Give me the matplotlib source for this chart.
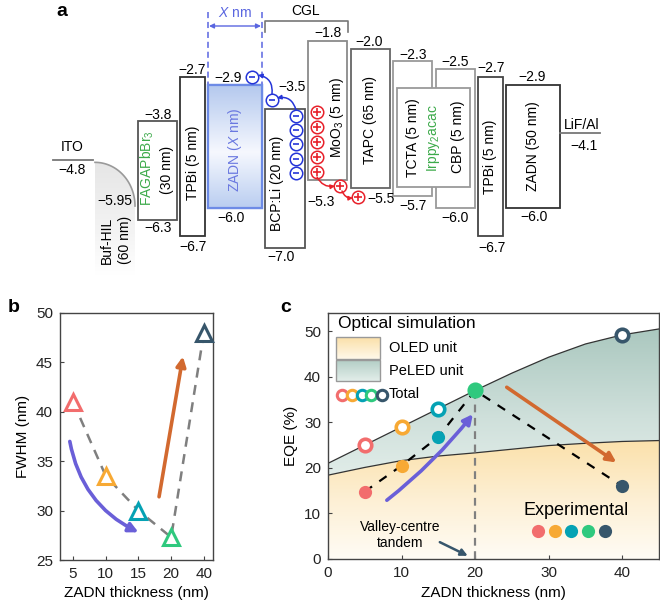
import numpy as np
import matplotlib
matplotlib.use("Agg")
import matplotlib.pyplot as plt
from matplotlib.patches import Rectangle, Polygon, FancyArrowPatch
from matplotlib.colors import to_rgb

plt.rcParams['font.family'] = ['Liberation Sans', 'DejaVu Sans']
plt.rcParams['mathtext.fontset'] = 'custom'
plt.rcParams['mathtext.rm'] = 'Liberation Sans'
plt.rcParams['mathtext.it'] = 'Liberation Sans:italic'

# ---------------- data ----------------
# panel a: energy levels (eV)
layers = ['FAGAPbBr3', 'TPBi', 'ZADN_X', 'BCP:Li', 'MoO3', 'TAPC', 'TCTA', 'CBP', 'TPBi_2', 'ZADN_50']
lumo = [-3.8, -2.7, -2.9, -3.5, -1.8, -2.0, -2.3, -2.5, -2.7, -2.9]
homo = [-6.3, -6.7, -6.0, -7.0, -5.3, -5.5, -5.7, -6.0, -6.7, -6.0]
ito_level = -4.8
lifal_level = -4.1
bufhil_top = -4.85
bufhil_homo = -5.95
emitter_top = -2.98
emitter_bottom = -5.48

# panel b
b_thick_labels = ['5', '10', '15', '20', '40']
b_fwhm = [41.0, 33.5, 30.0, 27.3, 48.0]

# panel c
c_thick = [5, 10, 15, 20, 40]
c_exp = [14.8, 20.5, 26.8, 37.0, 16.0]
c_total_pts = [25.0, 29.0, 33.0, 37.0, 49.2]
sim_x = [0, 5, 10, 15, 20, 25, 30, 35, 40, 45]
sim_oled = [18.4, 20.1, 21.6, 22.6, 23.3, 24.1, 24.9, 25.4, 25.8, 26.0]
sim_total = [21.0, 25.0, 29.0, 33.0, 37.0, 40.8, 44.3, 47.2, 49.2, 50.5]

series_colors = ['#f26d6d', '#f7a934', '#05a2b4', '#2fc97e', '#37566b']

# ---------------- figure ----------------
W, H = 660, 611
fig = plt.figure(figsize=(W / 100, H / 100), dpi=100)


def vgrad(ax, extent, stops, clip, zorder=1):
    n = 256
    t = np.linspace(0, 1, n)
    pos = np.array([s[0] for s in stops])
    cols = np.array([to_rgb(s[1]) for s in stops])
    arr = np.stack([np.interp(t, pos, cols[:, k]) for k in range(3)], axis=-1)
    arr = arr[:, None, :]
    im = ax.imshow(arr, extent=extent, aspect='auto', origin='upper',
                   zorder=zorder, interpolation='bilinear')
    im.set_clip_path(clip)
    return im


# ================= panel a =================
axa = fig.add_axes([0, 1 - 280 / H, 1, 280 / H])
axa.set_axis_off()


def E(ypix):
    return -2.7 - (ypix - 77) / 39.7


axa.set_xlim(0, W)
axa.set_ylim(E(280), E(0))


def fmt(v):
    s = f"{abs(v):.2f}" if abs(round(v, 1) - v) > 1e-9 else f"{abs(v):.1f}"
    return "\u2212" + s


FS = 10
box_x = [(138, 177), (180, 205), (208, 262), (265, 305), (308, 347),
         (351, 390), (393, 432), (436, 475), (478, 503), (506, 560)]
edge_cols = ['#555555', '#333333', '#6d8be6', '#555555', '#8a8a8a',
             '#666666', '#9a9a9a', '#9a9a9a', '#444444', '#333333']

for i, name in enumerate(layers):
    x0, x1 = box_x[i]
    r = Rectangle((x0, homo[i]), x1 - x0, lumo[i] - homo[i], fc='white',
                  ec=edge_cols[i], lw=1.3 if name != 'ZADN_X' else 1.6, zorder=2)
    axa.add_patch(r)
    if name == 'ZADN_X':
        vgrad(axa, [x0, x1, homo[i], lumo[i]],
              [(0, '#b3c8ee'), (0.55, '#f6f8fe'), (1, '#b9cdf0')], r, zorder=2.1)
        r2 = Rectangle((x0, homo[i]), x1 - x0, lumo[i] - homo[i], fc='none',
                       ec=edge_cols[i], lw=1.6, zorder=2.2)
        axa.add_patch(r2)

# emitter (host-guest) box
axa.add_patch(Rectangle((397, emitter_bottom), 470 - 397, emitter_top - emitter_bottom,
                        fc='white', ec='#9a9a9a', lw=1.3, zorder=3))

# ITO and LiF/Al lines
axa.plot([53, 93], [ito_level, ito_level], color='#777777', lw=1.3)
axa.text(72, E(147), 'ITO', ha='center', va='center', fontsize=FS)
axa.text(72, E(170), fmt(ito_level), ha='center', va='center', fontsize=FS)
axa.plot([560, 600], [lifal_level, lifal_level], color='#777777', lw=1.3)
axa.text(582, E(125), 'LiF/Al', ha='center', va='center', fontsize=FS)
axa.text(584, E(146), fmt(lifal_level), ha='center', va='center', fontsize=FS)

# Buf-HIL shape
th = np.linspace(np.pi / 2, 0, 60)
cx, cy = 95, bufhil_homo
rx, ry = 40, bufhil_top - bufhil_homo
curve_x = cx + rx * np.cos(th)
curve_y = cy + ry * np.sin(th)
ybot = E(275)
poly_pts = np.vstack([np.column_stack([curve_x, curve_y]),
                      [[135, ybot], [95, ybot]]])
hil = Polygon(poly_pts, closed=True, fc='none', ec='none', zorder=1)
axa.add_patch(hil)
vgrad(axa, [95, 135, ybot, bufhil_top], [(0, '#e6e6e6'), (0.6, '#f3f3f3'), (1, '#ffffff')],
      hil, zorder=1)
axa.plot(curve_x, curve_y, color='#9a9a9a', lw=1.2, zorder=2)
axa.text(115, E(201), fmt(bufhil_homo), ha='center', va='center', fontsize=FS, zorder=4)
axa.text(107, E(240), 'Buf-HIL', rotation=90, ha='center', va='center', fontsize=FS)
axa.text(125, E(240), '(60 nm)', rotation=90, ha='center', va='center', fontsize=FS)

# level labels (x pixel, y pixel)
lumo_lab_pos = [(158, 115), (192, 70), (228, 78), (292, 87), (328, 33),
                (369, 42), (413, 55), (455, 62), (491, 68), (532, 77)]
homo_lab_pos = [(158, 228), (193, 247), (231, 218), (281, 257), (321, 202),
                (381, 199), (413, 206), (455, 218), (492, 248), (534, 217)]
for i in range(len(layers)):
    axa.text(lumo_lab_pos[i][0], E(lumo_lab_pos[i][1]), fmt(lumo[i]),
             ha='center', va='center', fontsize=FS, zorder=5)
    axa.text(homo_lab_pos[i][0], E(homo_lab_pos[i][1]), fmt(homo[i]),
             ha='center', va='center', fontsize=FS, zorder=5)

# inner labels
green = '#3caa4a'
blue_t = '#6a78e0'
axa.text(147, E(168), 'FAGAPbBr$_3$', rotation=90, ha='center', va='center', fontsize=FS, color=green, zorder=5)
axa.text(167, E(170), '(30 nm)', rotation=90, ha='center', va='center', fontsize=FS, zorder=5)
axa.text(193, E(163), 'TPBi (5 nm)', rotation=90, ha='center', va='center', fontsize=FS, zorder=5)
axa.text(235, E(150), 'ZADN ($\\mathit{X}$ nm)', rotation=90, ha='center', va='center', fontsize=FS, color=blue_t, zorder=5)
axa.text(277, E(183), 'BCP:Li (20 nm)', rotation=90, ha='center', va='center', fontsize=FS, zorder=5)
axa.text(337, E(117), 'MoO$_3$ (5 nm)', rotation=90, ha='center', va='center', fontsize=FS, zorder=5)
axa.text(370, E(120), 'TAPC (65 nm)', rotation=90, ha='center', va='center', fontsize=FS, zorder=5)
axa.text(413, E(138), 'TCTA (5 nm)', rotation=90, ha='center', va='center', fontsize=FS, zorder=5)
axa.text(433, E(138), 'Irppy$_2$acac', rotation=90, ha='center', va='center', fontsize=FS, color=green, zorder=5)
axa.text(458, E(137), 'CBP (5 nm)', rotation=90, ha='center', va='center', fontsize=FS, zorder=5)
axa.text(490, E(157), 'TPBi (5 nm)', rotation=90, ha='center', va='center', fontsize=FS, zorder=5)
axa.text(533, E(146), 'ZADN (50 nm)', rotation=90, ha='center', va='center', fontsize=FS, zorder=5)

# X nm dimension
xblue = '#5a66e0'
for xv in (208, 262):
    axa.plot([xv, xv], [E(12), E(84)], color=xblue, lw=1.1, ls=(0, (4, 2.5)), zorder=4)
axa.annotate('', xy=(209, E(26)), xytext=(261, E(26)),
             arrowprops=dict(arrowstyle='<|-|>', color=xblue, lw=1.0, mutation_scale=7,
                             shrinkA=0, shrinkB=0))
axa.text(235, E(13), '$\\mathit{X}$ nm', ha='center', va='center', fontsize=FS, color=xblue)

# CGL bracket
axa.plot([265, 265, 348, 348], [E(32), E(21), E(21), E(32)], color='#777777', lw=1.2)
axa.text(306, E(11), 'CGL', ha='center', va='center', fontsize=FS)

# charges
cblue = '#2535d8'
cred = '#e8202a'
minus_pts = [(296, 116), (296, 130), (296, 144), (296, 159), (296, 173), (272, 100), (252, 77)]
plus_pts = [(317, 112), (317, 127), (317, 142), (317, 157), (317, 172), (340, 186), (358, 197)]
for (px, py) in minus_pts:
    axa.plot(px, E(py), 'o', ms=9, mfc='white', mec=cblue, mew=1.1, zorder=6)
    axa.plot(px, E(py), marker='_', ms=5, mew=1.2, color=cblue, zorder=7)
for (px, py) in plus_pts:
    axa.plot(px, E(py), 'o', ms=9, mfc='white', mec=cred, mew=1.1, zorder=6)
    axa.plot(px, E(py), marker='+', ms=5.5, mew=1.2, color=cred, zorder=7)

axa.annotate('', xy=(277, E(98)), xytext=(296, E(110)),
             arrowprops=dict(arrowstyle='-|>', color=cblue, lw=1.1, mutation_scale=6,
                             connectionstyle='arc3,rad=0.45', shrinkA=0, shrinkB=0), zorder=7)
axa.annotate('', xy=(258, E(75)), xytext=(272, E(94)),
             arrowprops=dict(arrowstyle='-|>', color=cblue, lw=1.1, mutation_scale=6,
                             connectionstyle='arc3,rad=0.45', shrinkA=0, shrinkB=0), zorder=7)
axa.annotate('', xy=(335, E(186)), xytext=(317, E(177)),
             arrowprops=dict(arrowstyle='-|>', color=cred, lw=1.1, mutation_scale=6,
                             connectionstyle='arc3,rad=0.35', shrinkA=0, shrinkB=0), zorder=7)
axa.annotate('', xy=(353, E(198)), xytext=(342, E(191)),
             arrowprops=dict(arrowstyle='-|>', color=cred, lw=1.1, mutation_scale=6,
                             connectionstyle='arc3,rad=0.35', shrinkA=0, shrinkB=0), zorder=7)

fig.text(62 / W, 1 - 11 / H, 'a', fontsize=14, fontweight='bold', ha='center', va='center')

# ================= panel b =================
axb = fig.add_axes([60 / W, 1 - 560 / H, 153 / W, 247 / H])
xb = np.arange(len(b_thick_labels))
axb.plot(xb, b_fwhm, ls=(0, (4, 3)), color='#7f7f7f', lw=1.8, zorder=2)
for i in range(len(xb)):
    axb.plot(xb[i], b_fwhm[i], marker='^', ms=11, mfc='white', mec=series_colors[i],
             mew=2.2, zorder=3, clip_on=False)
axb.set_xlim(-0.4, 4.28)
axb.set_ylim(25, 50)
axb.set_xticks(xb)
axb.set_xticklabels(b_thick_labels)
axb.set_yticks([25, 30, 35, 40, 45, 50])
axb.set_xlabel('ZADN thickness (nm)', fontsize=11, labelpad=4)
axb.set_ylabel('FWHM (nm)', fontsize=11, labelpad=4)
axb.annotate('', xy=(2.0, 27.8), xytext=(-0.1, 37.0),
             arrowprops=dict(arrowstyle='-|>', color='#6a5fd8', lw=2.6, mutation_scale=14,
                             connectionstyle='arc3,rad=0.25', shrinkA=0, shrinkB=0))
axb.annotate('', xy=(3.36, 45.6), xytext=(2.63, 31.4),
             arrowprops=dict(arrowstyle='-|>', color='#d2692f', lw=2.6, mutation_scale=14,
                             shrinkA=0, shrinkB=0))
fig.text(14 / W, 1 - 307 / H, 'b', fontsize=14, fontweight='bold', ha='center', va='center')

# ================= panel c =================
axc = fig.add_axes([328 / W, 1 - 559 / H, 331 / W, 246 / H])
axc.set_xlim(0, 45)
axc.set_ylim(0, 54)
fo = axc.fill_between(sim_x, 0, sim_oled, color='none', lw=0)
fp = axc.fill_between(sim_x, sim_oled, sim_total, color='none', lw=0)
p_o = fo.get_paths()[0]
p_p = fp.get_paths()[0]
im1 = vgrad(axc, [0, 45, 0, 27], [(0, '#fbe0a8'), (0.5, '#fdefd3'), (1, '#fffcf5')], None, zorder=0.5)
im1.set_clip_path(p_o, axc.transData)
im2 = vgrad(axc, [0, 45, 17, 52], [(0, '#a8c6bd'), (0.6, '#cfe0db'), (1, '#e3eeea')], None, zorder=0.5)
im2.set_clip_path(p_p, axc.transData)
axc.plot(sim_x, sim_oled, color='#333333', lw=0.9, zorder=1)
axc.plot(sim_x, sim_total, color='#333333', lw=0.9, zorder=1)
axc.set_xlim(0, 45)
axc.set_ylim(0, 54)

# vertical marker at 20
axc.plot([20, 20], [0, 37], color='#808080', lw=1.6, ls=(0, (3.5, 2.5)), zorder=2)
# experimental dashed line
axc.plot(c_thick, c_exp, color='black', lw=1.6, ls=(0, (4, 4)), zorder=2)

for i in range(len(c_thick)):
    axc.plot(c_thick[i], c_total_pts[i], 'o', ms=9, mfc='white', mec=series_colors[i], mew=2.6, zorder=3)
for i in range(len(c_thick)):
    axc.plot(c_thick[i], c_exp[i], 'o', ms=9.5, color=series_colors[i], mec='none', zorder=4)

axc.annotate('', xy=(19.7, 31.8), xytext=(8.0, 12.9),
             arrowprops=dict(arrowstyle='-|>', color='#6a5fd8', lw=2.6, mutation_scale=14,
                             connectionstyle='arc3,rad=0.06', shrinkA=0, shrinkB=0), zorder=5)
axc.annotate('', xy=(39.2, 21.2), xytext=(24.3, 37.7),
             arrowprops=dict(arrowstyle='-|>', color='#d2692f', lw=2.6, mutation_scale=14,
                             shrinkA=0, shrinkB=0), zorder=5)
axc.annotate('', xy=(19.0, 0.7), xytext=(15.2, 3.7),
             arrowprops=dict(arrowstyle='-|>', color='#37566b', lw=1.8, mutation_scale=10,
                             shrinkA=0, shrinkB=0), zorder=5)
axc.text(9.8, 5.3, 'Valley-centre\ntandem', ha='center', va='center', fontsize=10,
         linespacing=1.15, zorder=5)

# legend
axc.text(1.3, 51.6, 'Optical simulation', ha='left', va='center', fontsize=12.5, zorder=6)
leg_o = Rectangle((1.1, 43.9), 6.0, 4.8, fc='none', ec='#999999', lw=1.0, zorder=6)
leg_p = Rectangle((1.1, 39.0), 6.0, 4.6, fc='none', ec='#999999', lw=1.0, zorder=6)
axc.add_patch(leg_o)
axc.add_patch(leg_p)
g1 = vgrad(axc, [1.1, 7.1, 43.9, 48.7], [(0, '#fbe0a8'), (1, '#fff8ea')], None, zorder=5.5)
g1.set_clip_path(leg_o)
g2 = vgrad(axc, [1.1, 7.1, 39.0, 43.6], [(0, '#b3cec6'), (1, '#e3eeea')], None, zorder=5.5)
g2.set_clip_path(leg_p)
axc.set_xlim(0, 45)
axc.set_ylim(0, 54)
axc.text(8.3, 46.3, 'OLED unit', ha='left', va='center', fontsize=10.5, zorder=6)
axc.text(8.3, 41.3, 'PeLED unit', ha='left', va='center', fontsize=10.5, zorder=6)
leg_cx = [1.9, 3.2, 4.6, 5.9, 7.3]
for i in range(5):
    axc.plot(leg_cx[i], 36.1, 'o', ms=7.5, mfc='white', mec=series_colors[i], mew=2.2, zorder=6)
axc.text(8.3, 36.2, 'Total', ha='left', va='center', fontsize=10.5, zorder=6)

axc.text(33.8, 10.7, 'Experimental', ha='center', va='center', fontsize=13, zorder=6)
exp_leg_x = [28.6, 30.9, 33.1, 35.3, 37.6]
for i in range(5):
    axc.plot(exp_leg_x[i], 6.1, 'o', ms=9.5, color=series_colors[i], mec='none', zorder=6)

axc.set_xticks([0, 10, 20, 30, 40])
axc.set_yticks([0, 10, 20, 30, 40, 50])
axc.set_xlabel('ZADN thickness (nm)', fontsize=11, labelpad=4)
axc.set_ylabel('EQE (%)', fontsize=11, labelpad=4)
fig.text(286 / W, 1 - 307 / H, 'c', fontsize=14, fontweight='bold', ha='center', va='center')

for ax in (axb, axc):
    for s in ax.spines.values():
        s.set_color('#444444')
        s.set_linewidth(1.0)
    ax.tick_params(direction='in', length=3, width=0.8, colors='#444444',
                   labelcolor='#222222', labelsize=11, pad=5)

fig.savefig('out.png', dpi=100)
